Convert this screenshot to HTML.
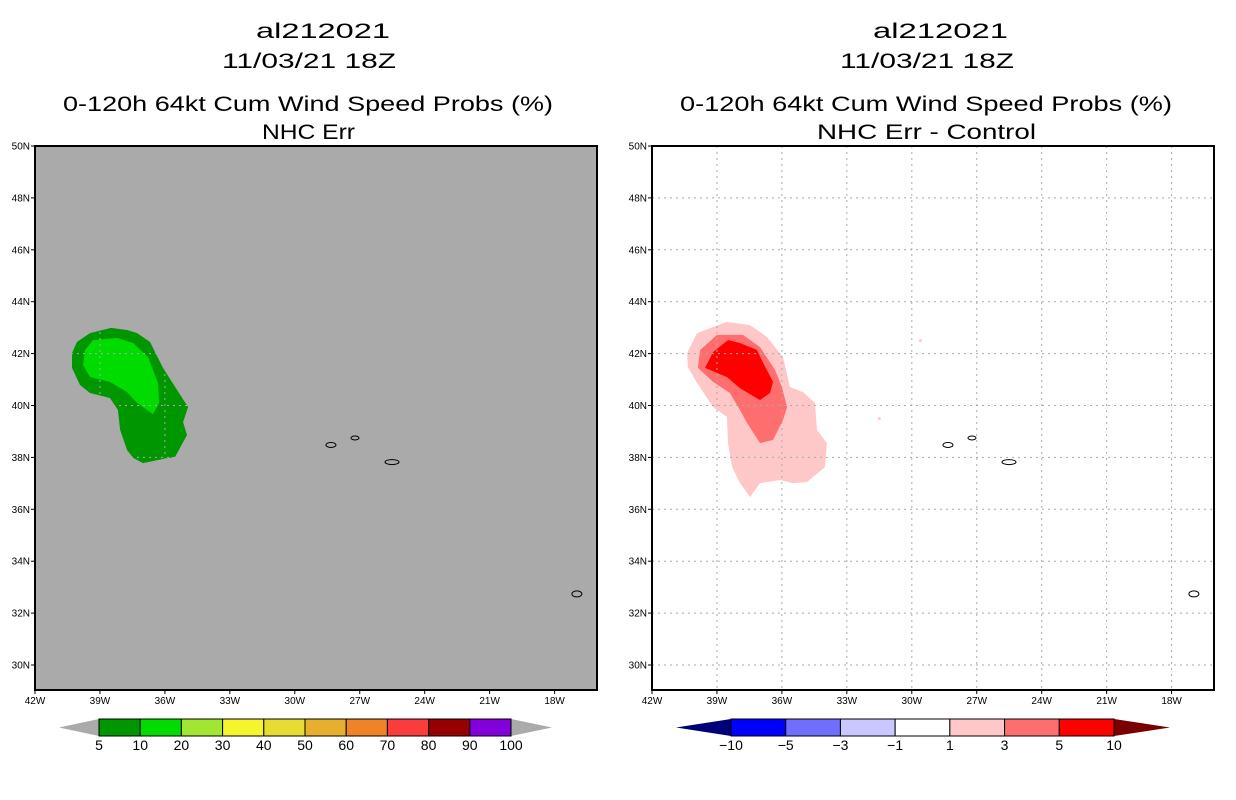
<!DOCTYPE html>
<html><head><meta charset="utf-8"><style>
html,body{margin:0;padding:0;background:#fff;}
svg{display:block;font-family:"Liberation Sans",sans-serif;}
</style></head><body>
<svg id="chart" width="1236" height="800" viewBox="0 0 1236 800" xmlns="http://www.w3.org/2000/svg">
<g id="titles" font-size="21" fill="#000" text-anchor="start">
 <text x="256" y="38" textLength="134" lengthAdjust="spacingAndGlyphs">al212021</text>
 <text x="222" y="68" textLength="174" lengthAdjust="spacingAndGlyphs">11/03/21 18Z</text>
 <text x="63" y="111" textLength="490" lengthAdjust="spacingAndGlyphs">0-120h 64kt Cum Wind Speed Probs (%)</text>
 <text x="262" y="139" textLength="93" lengthAdjust="spacingAndGlyphs">NHC Err</text>
 <text x="873" y="38" textLength="135" lengthAdjust="spacingAndGlyphs">al212021</text>
 <text x="840" y="68" textLength="174" lengthAdjust="spacingAndGlyphs">11/03/21 18Z</text>
 <text x="680" y="111" textLength="492" lengthAdjust="spacingAndGlyphs">0-120h 64kt Cum Wind Speed Probs (%)</text>
 <text x="817" y="139" textLength="219" lengthAdjust="spacingAndGlyphs">NHC Err - Control</text>
</g>
<g id="left"></g>
<g id="right"></g>
<g id="cbars"></g>
</svg>
<script>
const lonTicks = [-42,-39,-36,-33,-30,-27,-24,-21,-18];
const latTicks = [30,32,34,36,38,40,42,44,46,48,50];
// Left panel contours (lon, lat)
const probOuter = [[-38.49,42.99],[-39.46,42.79],[-40.06,42.45],[-40.29,42.02],[-40.29,41.45],[-39.92,40.79],[-39.46,40.48],[-38.54,40.29],[-38.17,39.83],[-38.07,39.06],[-37.75,38.29],[-37.47,37.98],[-37.01,37.78],[-36.09,37.94],[-35.53,38.02],[-34.98,38.86],[-35.16,39.36],[-34.93,39.94],[-35.44,40.60],[-36.09,41.45],[-36.69,42.45],[-37.29,42.79],[-37.75,42.91]];
const probInner = [[-39.32,42.52],[-39.69,42.14],[-39.78,41.56],[-39.46,41.10],[-38.54,40.91],[-37.75,40.52],[-37.29,40.10],[-36.55,39.67],[-36.27,40.10],[-36.32,40.87],[-36.78,41.87],[-37.47,42.41],[-38.21,42.60]];
// Right panel difference contours
const diff1 = [[-38.54,43.22],[-39.92,42.79],[-40.38,42.02],[-40.34,41.48],[-39.92,40.87],[-39.18,39.94],[-38.54,39.56],[-38.49,38.55],[-38.30,37.63],[-37.94,37.01],[-37.47,36.47],[-37.01,37.01],[-36.09,37.13],[-35.49,37.01],[-34.84,37.05],[-34.01,37.63],[-33.92,38.55],[-34.38,39.06],[-34.47,40.10],[-35.03,40.52],[-35.63,40.71],[-35.95,41.87],[-36.69,42.64],[-37.47,43.10]];
const diff3 = [[-39.00,42.72],[-39.78,42.14],[-39.88,41.45],[-39.18,40.91],[-38.40,40.48],[-37.94,39.83],[-37.61,39.33],[-37.01,38.55],[-36.41,38.67],[-35.95,39.44],[-35.76,39.94],[-36.00,40.71],[-36.32,41.37],[-37.01,42.25],[-37.80,42.72]];
const diff5 = [[-38.49,42.52],[-39.18,42.06],[-39.55,41.45],[-38.54,41.10],[-37.94,40.67],[-37.01,40.21],[-36.55,40.48],[-36.41,40.91],[-36.87,41.64],[-37.15,42.14],[-37.94,42.41]];
const diffDots = [[-29.6,42.5],[-31.5,39.5]];
const islands = [[-28.33,38.48,5,2.5],[-27.22,38.75,4,2],[-25.51,37.82,7,2.5],[-16.97,32.74,5,3]];
const probLevels = ['5','10','20','30','40','50','60','70','80','90','100'];
const probColors = ['#009600','#00dc00','#a0e632','#f5f52d','#e6dc32','#e6af2d','#f08228','#fa3c3c','#960000','#8200dc'];
const diffLevels = ['\u221210','\u22125','\u22123','\u22121','1','3','5','10'];
const diffColors = ['#0000ff','#6e6eff','#c8c8ff','#ffffff','#ffc8c8','#ff6e6e','#ff0000'];

const NS='http://www.w3.org/2000/svg';
function mk(tag, attrs, parent){const e=document.createElementNS(NS,tag);for(const k in attrs)e.setAttribute(k,attrs[k]);parent.appendChild(e);return e;}
const PX0=35, PW=562, PY0=146, PH=544;
function xs(off){return lon=>off+PX0+(lon+42)*21.65;}
function ys(lat){return PY0+(50-lat)*25.95;}

function panel(gid, off, bg){
 const g=document.getElementById(gid);
 const x=xs(off);
 const bgR=mk('rect',{x:off+PX0,y:PY0,width:PW,height:PH,fill:bg},g);
 
 
 return {g,x};
}
function poly(p, pts, fill, name){
 const e=mk('polygon',{points:pts.map(d=>p.x(d[0]).toFixed(1)+','+ys(d[1]).toFixed(1)).join(' '),fill:fill},p.g);
 
 
}
function decor(p, off, gridColor){
 const g=p.g;
 lonTicks.forEach(l=>{
  const X=p.x(l);
  if(l>-42){const ln=mk('line',{x1:X,x2:X,y1:PY0,y2:PY0+PH,stroke:gridColor,'stroke-width':1,'stroke-dasharray':'2,4'},g);
   }
  const tk=mk('line',{x1:X,x2:X,y1:PY0+PH,y2:PY0+PH+4,stroke:'#000'},g);
  
  const t=mk('text',{x:X,y:PY0+PH+14,'font-size':10,'text-anchor':'middle'},g);
  t.textContent=(-l)+'W';
  
 });
 latTicks.forEach(l=>{
  const Y=ys(l);
  if(l<50){const ln=mk('line',{x1:off+PX0,x2:off+PX0+PW,y1:Y,y2:Y,stroke:gridColor,'stroke-width':1,'stroke-dasharray':'2,4'},g);
   }
  const tk=mk('line',{x1:off+PX0-4,x2:off+PX0,y1:Y,y2:Y,stroke:'#000'},g);
  
  const t=mk('text',{x:off+PX0-5,y:Y+3.5,'font-size':10,'text-anchor':'end'},g);
  t.textContent=l+'N';
  
 });
 islands.forEach(d=>{
  const e=mk('ellipse',{cx:p.x(d[0]),cy:ys(d[1]),rx:d[2],ry:d[3],fill:'none',stroke:'#000','stroke-width':1},g);
  
 });
 const fr=mk('rect',{x:off+PX0,y:PY0,width:PW,height:PH,fill:'none',stroke:'#000','stroke-width':2},g);
 
}
const L=panel('left',0,'#aaaaaa');
poly(L,probOuter,'#009600','prob-contour-5');
poly(L,probInner,'#00dc00','prob-contour-10');
decor(L,0,'#aaaaaa');
const R=panel('right',617,'#ffffff');
poly(R,diff1,'#ffc8c8','diff-contour-1');
poly(R,diff3,'#ff6e6e','diff-contour-3');
poly(R,diff5,'#ff0000','diff-contour-5');
diffDots.forEach(d=>{const e=mk('circle',{cx:R.x(d[0]),cy:ys(d[1]),r:1.5,fill:'#ffc8c8'},R.g);
 });
decor(R,617,'#aaaaaa');

function cbar(x0,x1,tl,tr,colors,levels,lc,rc,name){
 const g=document.getElementById('cbars');
 const y0=719,y1=736,ym=(y0+y1)/2,w=(x1-x0)/colors.length;
 const a=mk('polygon',{points:`${tl},${ym} ${x0},${y0} ${x0},${y1}`,fill:lc},g);
 
 const b=mk('polygon',{points:`${tr},${ym} ${x1},${y0} ${x1},${y1}`,fill:rc},g);
 
 colors.forEach((c,i)=>{const r=mk('rect',{x:x0+i*w,y:y0,width:w,height:y1-y0,fill:c,stroke:'#000','stroke-width':1},g);
  });
 levels.forEach((s,i)=>{const t=mk('text',{x:x0+i*w,y:750,'font-size':14,'text-anchor':'middle'},g);
  t.textContent=s;});
}
cbar(99,511,59,552,probColors,probLevels,'#aaaaaa','#aaaaaa','prob-colorbar');
cbar(731,1114,676,1170,diffColors,diffLevels,'#000078','#780000','diff-colorbar');
</script>
</body></html>
